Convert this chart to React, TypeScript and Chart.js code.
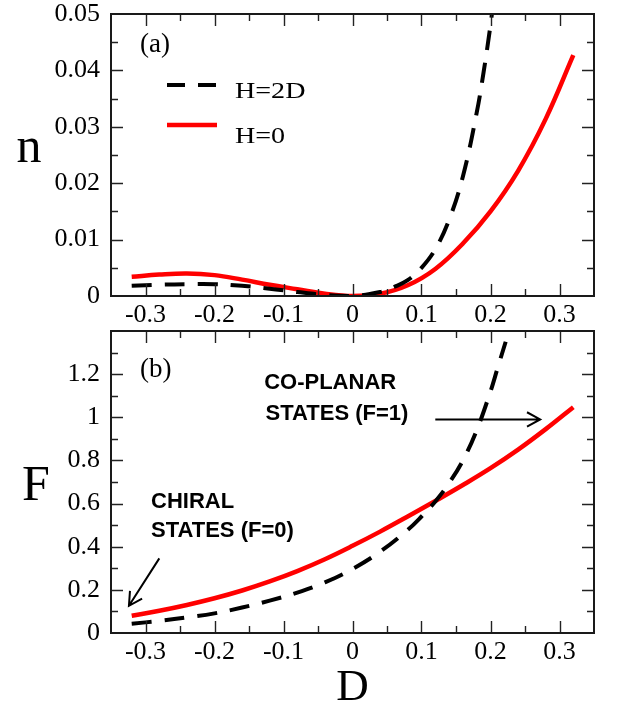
import React, { useEffect, useRef } from "react";
import { Chart, registerables } from "chart.js";
Chart.register(...registerables);

// ---------- data ----------
const D_GRID = [-0.32, -0.28, -0.24, -0.2, -0.16, -0.12, -0.08, -0.04, 0, 0.04, 0.08, 0.12, 0.16, 0.2, 0.24, 0.28, 0.32];
const N_H0 = [0.0034, 0.0038, 0.004, 0.0037, 0.0029, 0.002, 0.0012, 0.0004, 0, 0.0004, 0.0019, 0.0048, 0.0093, 0.015, 0.0222, 0.0314, 0.0427];
const D_N_H2D = [-0.32, -0.28, -0.24, -0.2, -0.16, -0.12, -0.08, -0.04, 0, 0.04, 0.06, 0.08, 0.1, 0.12, 0.14, 0.16, 0.18, 0.19, 0.2, 0.202];
const N_H2D = [0.0018, 0.002, 0.0021, 0.0021, 0.0018, 0.0013, 0.0007, 0.0002, 0, 0.0007, 0.0016, 0.0028, 0.005, 0.0083, 0.0135, 0.0212, 0.0325, 0.0397, 0.048, 0.05];
const F_H0 = [0.08, 0.103, 0.13, 0.161, 0.197, 0.239, 0.287, 0.342, 0.404, 0.47, 0.54, 0.612, 0.686, 0.764, 0.85, 0.945, 1.047];
const D_F_H2D = [-0.32, -0.28, -0.24, -0.2, -0.16, -0.12, -0.08, -0.04, 0, 0.04, 0.08, 0.1, 0.12, 0.14, 0.16, 0.18, 0.2, 0.21, 0.222];
const F_H2D = [0.043, 0.056, 0.072, 0.091, 0.118, 0.15, 0.187, 0.235, 0.297, 0.377, 0.478, 0.54, 0.61, 0.695, 0.8, 0.94, 1.12, 1.225, 1.35];

const SERIES_LABELS = ["H=2D", "H=0"];

const X_TICKS = [-0.3, -0.2, -0.1, 0, 0.1, 0.2, 0.3];
const X_TICK_LABELS = ["-0.3", "-0.2", "-0.1", "0", "0.1", "0.2", "0.3"];
const X_MINOR = [-0.25, -0.15, -0.05, 0.05, 0.15, 0.25];
const N_TICKS = [0, 0.01, 0.02, 0.03, 0.04, 0.05];
const N_TICK_LABELS = ["0", "0.01", "0.02", "0.03", "0.04", "0.05"];
const N_MINOR = [0.005, 0.015, 0.025, 0.035, 0.045];
const F_TICKS = [0, 0.2, 0.4, 0.6, 0.8, 1, 1.2];
const F_TICK_LABELS = ["0", "0.2", "0.4", "0.6", "0.8", "1", "1.2"];
const F_MINOR = [0.1, 0.3, 0.5, 0.7, 0.9, 1.1, 1.3];

const SERIF = "'Liberation Serif', 'Times New Roman', serif";
const SANS = "'Liberation Sans', Arial, sans-serif";
const RED = "#ff0000";

// ---------- helpers ----------
function txt(ctx: any, s: string, x: number, y: number, font: string, align: string = "left", sx = 1) {
  ctx.save();
  ctx.font = font;
  ctx.fillStyle = "#000";
  ctx.textAlign = align;
  ctx.textBaseline = "alphabetic";
  ctx.translate(x, y);
  ctx.scale(sx, 1);
  ctx.fillText(s, 0, 0);
  ctx.restore();
}

function arrow(ctx: any, x1: number, y1: number, x2: number, y2: number) {
  ctx.save();
  ctx.strokeStyle = "#000";
  ctx.lineWidth = 2;
  ctx.setLineDash([]);
  ctx.beginPath();
  ctx.moveTo(x1, y1);
  ctx.lineTo(x2, y2);
  const a = Math.atan2(y2 - y1, x2 - x1);
  const L = 15, w = 0.5;
  ctx.moveTo(x2 - L * Math.cos(a - w), y2 - L * Math.sin(a - w));
  ctx.lineTo(x2, y2);
  ctx.lineTo(x2 - L * Math.cos(a + w), y2 - L * Math.sin(a + w));
  ctx.stroke();
  ctx.restore();
}

function framePlugin(yMajor: number[], yMinor: number[], extra: (chart: any) => void) {
  return {
    id: "frame",
    afterDraw(chart: any) {
      const { ctx, chartArea: a, scales } = chart;
      const x = scales.x, y = scales.y;
      ctx.save();
      ctx.strokeStyle = "#222";
      ctx.lineWidth = 1.4;
      ctx.setLineDash([]);
      ctx.beginPath();
      const xt = (v: number, len: number) => {
        const px = Math.round(x.getPixelForValue(v)) + 0.5;
        ctx.moveTo(px, a.bottom);
        ctx.lineTo(px, a.bottom - len);
        ctx.moveTo(px, a.top);
        ctx.lineTo(px, a.top + len);
      };
      const yt = (v: number, len: number) => {
        const py = Math.round(y.getPixelForValue(v)) + 0.5;
        if (py <= a.top + 1 || py >= a.bottom - 1) return;
        ctx.moveTo(a.left, py);
        ctx.lineTo(a.left + len, py);
        ctx.moveTo(a.right, py);
        ctx.lineTo(a.right - len, py);
      };
      X_TICKS.forEach((v) => xt(v, 12));
      X_MINOR.forEach((v) => xt(v, 7));
      yMajor.forEach((v) => yt(v, 12));
      yMinor.forEach((v) => yt(v, 7));
      ctx.stroke();
      ctx.lineWidth = 2;
      ctx.strokeStyle = "#1a1a1a";
      ctx.strokeRect(a.left, a.top, a.right - a.left, a.bottom - a.top);
      ctx.restore();
      extra(chart);
    },
  };
}

function xScale(height: number) {
  return {
    type: "linear",
    min: -0.35,
    max: 0.35,
    grid: { display: false, drawTicks: false },
    border: { display: false },
    afterBuildTicks: (s: any) => {
      s.ticks = X_TICKS.map((v) => ({ value: v }));
    },
    afterFit: (s: any) => {
      s.height = height;
      s.paddingLeft = 0;
      s.paddingRight = 0;
    },
    ticks: {
      font: { family: SERIF, size: 26 },
      color: "#000",
      padding: 4,
      maxRotation: 0,
      autoSkip: false,
      callback: (v: number) => X_TICK_LABELS[X_TICKS.indexOf(v)],
    },
  };
}

function yScale(max: number, ticks: number[], labels: string[]) {
  return {
    type: "linear",
    min: 0,
    max,
    grid: { display: false, drawTicks: false },
    border: { display: false },
    afterBuildTicks: (s: any) => {
      s.ticks = ticks.map((v) => ({ value: v }));
    },
    afterFit: (s: any) => {
      s.width = 111;
      s.paddingTop = 0;
      s.paddingBottom = 0;
    },
    ticks: {
      font: { family: SERIF, size: 26 },
      color: "#000",
      padding: 11,
      autoSkip: false,
      callback: (v: number) => labels[ticks.indexOf(v)],
    },
  };
}

function datasets(dBlack: number[], vBlack: number[], dRed: number[], vRed: number[]) {
  return [
    {
      label: SERIES_LABELS[0],
      data: dBlack.map((d, i) => ({ x: d, y: vBlack[i] })),
      borderColor: "#000",
      borderWidth: 4,
      borderDash: [20, 13],
      pointRadius: 0,
      tension: 0.4,
      fill: false,
    },
    {
      label: SERIES_LABELS[1],
      data: dRed.map((d, i) => ({ x: d, y: vRed[i] })),
      borderColor: RED,
      borderWidth: 4.5,
      pointRadius: 0,
      tension: 0.4,
      fill: false,
    },
  ];
}

const baseOptions = (padTop: number, xHeight: number, y: any) => ({
  responsive: false,
  maintainAspectRatio: false,
  animation: false,
  events: [],
  layout: { padding: { top: padTop, right: 28, left: 0, bottom: 0 } },
  plugins: { legend: { display: false }, tooltip: { enabled: false } },
  scales: { x: xScale(xHeight), y },
});

export default function App() {
  const topRef = useRef<HTMLCanvasElement>(null);
  const botRef = useRef<HTMLCanvasElement>(null);

  useEffect(() => {
    const topExtra = (chart: any) => {
      const ctx = chart.ctx;
      const ds = chart.data.datasets;
      txt(ctx, "(a)", 140, 52, `27px ${SERIF}`);
      ctx.save();
      ctx.lineWidth = 4;
      ctx.strokeStyle = ds[0].borderColor;
      ctx.setLineDash([18, 13]);
      ctx.beginPath();
      ctx.moveTo(167, 85);
      ctx.lineTo(217, 85);
      ctx.stroke();
      ctx.setLineDash([]);
      ctx.strokeStyle = ds[1].borderColor;
      ctx.lineWidth = 4.5;
      ctx.beginPath();
      ctx.moveTo(167, 125);
      ctx.lineTo(217, 125);
      ctx.stroke();
      ctx.restore();
      txt(ctx, ds[0].label, 235, 98, `24px ${SERIF}`, "left", 1.17);
      txt(ctx, ds[1].label, 235, 143, `24px ${SERIF}`, "left", 1.17);
      txt(ctx, "n", 29, 162, `50px ${SERIF}`, "center");
    };

    const botExtra = (chart: any) => {
      const ctx = chart.ctx;
      const x = chart.scales.x, y = chart.scales.y;
      txt(ctx, "(b)", 140, 55, `27px ${SERIF}`);
      const bold = `bold 22px ${SANS}`;
      txt(ctx, "CO-PLANAR", x.getPixelForValue(-0.128), y.getPixelForValue(1.132), bold);
      txt(ctx, "STATES (F=1)", x.getPixelForValue(-0.126), y.getPixelForValue(0.989), bold);
      arrow(ctx, x.getPixelForValue(0.12), y.getPixelForValue(0.99), x.getPixelForValue(0.272), y.getPixelForValue(0.99));
      txt(ctx, "CHIRAL", x.getPixelForValue(-0.292), y.getPixelForValue(0.581), bold);
      txt(ctx, "STATES (F=0)", x.getPixelForValue(-0.292), y.getPixelForValue(0.446), bold);
      arrow(ctx, x.getPixelForValue(-0.28), y.getPixelForValue(0.346), x.getPixelForValue(-0.324), y.getPixelForValue(0.126));
      txt(ctx, "F", 36, 178, `50px ${SERIF}`, "center");
      txt(ctx, "D", (chart.chartArea.left + chart.chartArea.right) / 2, 378, `45px ${SERIF}`, "center");
    };

    const c1 = new Chart(topRef.current as HTMLCanvasElement, {
      type: "line",
      data: { datasets: datasets(D_N_H2D, N_H2D, D_GRID, N_H0) as any },
      options: baseOptions(14, 39, yScale(0.05, N_TICKS, N_TICK_LABELS)) as any,
      plugins: [framePlugin(N_TICKS, N_MINOR, topExtra)],
    });
    const c2 = new Chart(botRef.current as HTMLCanvasElement, {
      type: "line",
      data: { datasets: datasets(D_F_H2D, F_H2D, D_GRID, F_H0) as any },
      options: baseOptions(9, 74, yScale(1.4, F_TICKS, F_TICK_LABELS)) as any,
      plugins: [framePlugin(F_TICKS, F_MINOR, botExtra)],
    });
    return () => {
      c1.destroy();
      c2.destroy();
    };
  }, []);

  return (
    <div style={{ position: "absolute", left: 0, top: 0, width: 622, height: 707, background: "#fff" }}>
      <canvas ref={topRef} width={622} height={335} style={{ position: "absolute", left: 0, top: 0, width: 622, height: 335 }} />
      <canvas ref={botRef} width={622} height={385} style={{ position: "absolute", left: 0, top: 322, width: 622, height: 385 }} />
    </div>
  );
}
